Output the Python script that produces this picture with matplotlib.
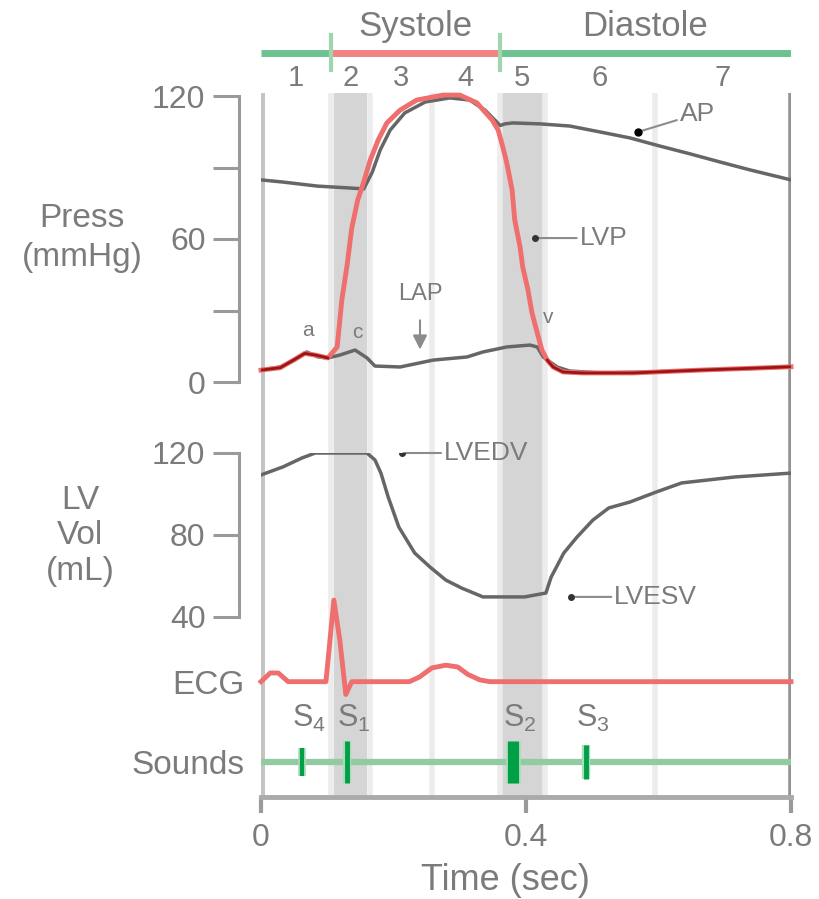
import numpy as np
import matplotlib.pyplot as plt

plt.rcParams['font.family'] = ['Liberation Sans', 'DejaVu Sans']
plt.rcParams['mathtext.default'] = 'regular'

# phases of the cardiac cycle (sec)
phase_edges = [0.0, 0.105, 0.165, 0.258, 0.36, 0.428, 0.595, 0.8]
phase_names = ['1', '2', '3', '4', '5', '6', '7']
iso_phases = [(0.110, 0.160), (0.364, 0.425)]
systole = (0.105, 0.36)

# left ventricular pressure (mmHg)
lvp_t = [0.0, 0.029, 0.051, 0.066, 0.082, 0.101, 0.115, 0.122, 0.130, 0.137, 0.146,
         0.155, 0.165, 0.177, 0.190, 0.210, 0.235, 0.275, 0.300, 0.326, 0.338, 0.349,
         0.358, 0.365, 0.371, 0.379, 0.383, 0.391, 0.395, 0.403, 0.409, 0.417, 0.424,
         0.432, 0.441, 0.456, 0.486, 0.562, 0.663, 0.764, 0.8]
lvp = [5.0, 6.0, 9.5, 12.0, 11.3, 10.1, 14.7, 34.4, 49.1, 64.6, 76.4,
       83.9, 93.2, 101.6, 108.7, 114.1, 118.3, 120.4, 120.4, 117.1, 113.3, 109.9,
       105.7, 98.6, 91.9, 80.6, 68.0, 56.7, 48.3, 38.6, 29.0, 20.6, 13.4,
       9.2, 6.3, 4.2, 3.8, 3.8, 5.0, 6.0, 6.4]

# aortic pressure (mmHg)
ap_t = [0.0, 0.033, 0.085, 0.134, 0.155, 0.168, 0.180, 0.195, 0.217, 0.248, 0.285,
        0.315, 0.338, 0.353, 0.361, 0.368, 0.380, 0.421, 0.466, 0.512, 0.557, 0.602,
        0.648, 0.693, 0.738, 0.8]
ap = [84.8, 83.9, 82.2, 81.4, 81.0, 88.1, 97.4, 105.7, 112.9, 117.5, 119.2,
      118.3, 114.1, 109.9, 107.6, 108.3, 108.7, 108.3, 107.4, 104.9, 102.4, 99.0,
      95.7, 92.3, 89.0, 84.8]

# left atrial pressure (mmHg)
lap_t = [0.0, 0.029, 0.051, 0.069, 0.086, 0.101, 0.119, 0.142, 0.160, 0.172, 0.210,
         0.260, 0.311, 0.335, 0.371, 0.406, 0.417, 0.426, 0.447, 0.466, 0.512, 0.587,
         0.663, 0.764, 0.8]
lap = [5.0, 6.3, 9.2, 12.6, 10.5, 10.1, 11.3, 13.4, 10.1, 6.7, 6.3,
       9.2, 10.5, 12.6, 14.7, 15.5, 14.7, 10.5, 6.3, 4.6, 3.8, 4.2,
       5.0, 5.9, 6.3]

# left ventricular volume (mL)
vol_t = [0.0, 0.033, 0.062, 0.082, 0.160, 0.172, 0.181, 0.192, 0.208, 0.232, 0.255,
         0.279, 0.303, 0.335, 0.398, 0.430, 0.438, 0.446, 0.457, 0.477, 0.501, 0.525,
         0.557, 0.596, 0.635, 0.715, 0.8]
vol = [109.3, 113.2, 117.6, 120.0, 120.0, 116.6, 110.2, 98.5, 83.9, 71.2, 64.4,
       58.0, 54.1, 49.8, 49.8, 51.7, 59.5, 64.4, 71.2, 79.0, 87.3, 93.2,
       96.1, 100.9, 105.4, 108.3, 110.2]

# ECG (arbitrary units)
ecg_t = [0.0, 0.014, 0.026, 0.041, 0.098, 0.110, 0.119, 0.128, 0.137, 0.224, 0.239,
         0.258, 0.279, 0.297, 0.312, 0.330, 0.345, 0.8]
ecg = [0.0, 0.095, 0.095, 0.0, 0.0, 0.89, 0.45, -0.14, 0.0, 0.0, 0.05,
       0.15, 0.18, 0.16, 0.08, 0.02, 0.0, 0.0]

# heart sounds
sound_t = [0.062, 0.130, 0.380, 0.491]
sound_names = ['S$_4$', 'S$_1$', 'S$_2$', 'S$_3$']
sound_h = [0.7, 1.05, 1.05, 0.85]
sound_w = [3, 3.5, 8, 3.5]

TXT = '#7b7b7b'
AX = '#9a9a9a'
DARK = '#666666'
RED = '#ef6e6e'
GREEN = '#6cc391'
LAB = 24      # big labels
TICK = 23     # tick labels
ANN = 19      # curve annotations

fig = plt.figure(figsize=(8.19, 8.99), dpi=100)


def px_axes(top, bottom):
    a = fig.add_axes([261 / 819, 1 - bottom / 899, 530 / 819, (bottom - top) / 899])
    a.set_xlim(0, 0.8)
    a.patch.set_alpha(0)
    return a


# background with phases and time axis
ax_bg = px_axes(93, 797)
ax_bg.set_ylim(0, 1)
for s in ['top', 'left', 'right']:
    ax_bg.spines[s].set_visible(False)
ax_bg.spines['bottom'].set_color('#aaaaaa')
ax_bg.spines['bottom'].set_linewidth(3.5)
for a, b in iso_phases:
    ax_bg.axvspan(a, b, color='#d5d5d5', lw=0, zorder=0)
for e in phase_edges[1:-1]:
    ax_bg.axvline(e, color='#ececec', lw=4, zorder=0)
ax_bg.axvline(0, color='#c4c4c4', lw=5, zorder=1)
ax_bg.axvline(0.8, color='#939393', lw=4, zorder=1)
ax_bg.set_yticks([])
ax_bg.set_xticks([0, 0.4, 0.8])
ax_bg.set_xticklabels(['0', '0.4', '0.8'])
ax_bg.tick_params(axis='x', length=11.5, width=3, color=AX, pad=7, labelsize=TICK, labelcolor=TXT)
ax_bg.text(0.369 / 0.8, -0.118, 'Time (sec)', transform=ax_bg.transAxes, ha='center', va='center',
           fontsize=26, color=TXT)

# top bar: systole / diastole and phase numbers
ax_top = px_axes(0, 93)
ax_top.set_ylim(0, 1)
ax_top.axis('off')
yb = 0.425
ax_top.plot([0, systole[0]], [yb, yb], color=GREEN, lw=5, solid_capstyle='butt')
ax_top.plot([systole[0], systole[1]], [yb, yb], color='#f28383', lw=5, solid_capstyle='butt')
ax_top.plot([systole[1], 0.8], [yb, yb], color=GREEN, lw=5, solid_capstyle='butt')
for e in systole:
    ax_top.plot([e, e], [0.25, 0.62], color='#9fd6b0', lw=3)
ax_top.text(np.mean(systole), 0.71, 'Systole', ha='center', va='center', fontsize=25, color=TXT)
ax_top.text((systole[1] + 0.8) / 2, 0.71, 'Diastole', ha='center', va='center', fontsize=25,
            color=TXT)
for i, n in enumerate(phase_names):
    mid = (phase_edges[i] + phase_edges[i + 1]) / 2
    ax_top.text(mid, 0.16, n, ha='center', va='center', fontsize=21, color=TXT)

# pressures
ax_p = px_axes(96, 382)
ax_p.set_ylim(0, 120)
for s in ['top', 'right', 'bottom']:
    ax_p.spines[s].set_visible(False)
ax_p.spines['left'].set_position(('outward', 16))
ax_p.spines['left'].set_color(AX)
ax_p.spines['left'].set_linewidth(2.2)
ax_p.set_yticks([0, 30, 60, 90, 120])
ax_p.set_yticklabels(['0', '', '60', '', '120'])
ax_p.tick_params(axis='y', length=19, width=2.2, color=AX, pad=5, labelsize=TICK, labelcolor=TXT)
ax_p.set_xticks([])

lvp_t_arr = np.array(lvp_t)
lvp_arr = np.array(lvp)
ax_p.plot(lap_t, lap, color=DARK, lw=2.5, zorder=3)
ax_p.plot(ap_t, ap, color=DARK, lw=2.5, zorder=3)
ax_p.plot(lvp_t, lvp, color=RED, lw=3.5, zorder=4, clip_on=False)
dia = np.ma.masked_where((lvp_t_arr > 0.106) & (lvp_t_arr < 0.43), lvp_arr)
ax_p.plot(lvp_t_arr, dia, color='#9b1515', lw=2, zorder=5)

ann = dict(fontsize=ANN, color=TXT, va='center', ha='left', textcoords='offset points',
           arrowprops=dict(arrowstyle='-', color='#8c8c8c', lw=1.5, shrinkA=0, shrinkB=1))
ax_p.plot(0.569, 104.9, 'o', color='black', ms=5, zorder=6)
ax_p.annotate('AP', (0.569, 104.9), xytext=(30, 13), **ann)
ax_p.plot(0.4136, 60.4, 'o', color='#333333', ms=4, zorder=6)
ax_p.annotate('LVP', (0.4136, 60.4), xytext=(32, 0), **ann)
ax_p.annotate('LAP', (0.24, 13.6), xytext=(0, 40), textcoords='offset points', fontsize=17,
              color=TXT, ha='center', va='center',
              arrowprops=dict(arrowstyle='-|>,head_width=0.25,head_length=0.5', color='#8c8c8c',
                              lw=1.5, shrinkA=9, shrinkB=0))
for lab, t, p in [('a', 0.0709, 21.4), ('c', 0.145, 20.6), ('v', 0.433, 26.9)]:
    ax_p.text(t, p, lab, fontsize=15, color=TXT, ha='center', va='center')
fig.text(82 / 819, 1 - 238 / 899, 'Press\n(mmHg)', ha='center', va='center', fontsize=LAB,
         color=TXT, linespacing=1.3)

# volume
ax_v = px_axes(453, 617)
ax_v.set_ylim(40, 120)
for s in ['top', 'right', 'bottom']:
    ax_v.spines[s].set_visible(False)
ax_v.spines['left'].set_position(('outward', 16))
ax_v.spines['left'].set_color(AX)
ax_v.spines['left'].set_linewidth(2.2)
ax_v.set_yticks([40, 80, 120])
ax_v.tick_params(axis='y', length=19, width=2.2, color=AX, pad=5, labelsize=TICK, labelcolor=TXT)
ax_v.set_xticks([])
ax_v.plot(vol_t, vol, color=DARK, lw=2.5, zorder=3)
ax_v.plot(0.213, 120, 'o', color='#333333', ms=4, zorder=6)
ax_v.annotate('LVEDV', (0.213, 120), xytext=(30, 0), **ann)
ax_v.plot(0.468, 49.8, 'o', color='#333333', ms=4, zorder=6)
ax_v.annotate('LVESV', (0.468, 49.8), xytext=(31, 0), **ann)
fig.text(80 / 819, 1 - 536 / 899, 'LV\nVol\n(mL)', ha='center', va='center', fontsize=LAB,
         color=TXT, linespacing=1.18)

# ECG
ax_e = px_axes(590, 700)
ax_e.set_ylim(-0.2, 1.0)
for s in ax_e.spines.values():
    s.set_visible(False)
ax_e.set_xticks([])
ax_e.set_yticks([0])
ax_e.set_yticklabels(['ECG'])
ax_e.tick_params(axis='y', length=0, pad=12, labelsize=LAB, labelcolor=TXT)
ax_e.plot(ecg_t, ecg, color=RED, lw=3.5, clip_on=False)

# heart sounds
ax_s = px_axes(742, 782)
ax_s.set_ylim(-1, 1)
for s in ax_s.spines.values():
    s.set_visible(False)
ax_s.set_xticks([])
ax_s.set_yticks([0])
ax_s.set_yticklabels(['Sounds'])
ax_s.tick_params(axis='y', length=0, pad=12, labelsize=LAB, labelcolor=TXT)
ax_s.axhline(0, color='#92cba2', lw=4.5, zorder=2)
for t, n, h, w in zip(sound_t, sound_names, sound_h, sound_w):
    ax_s.plot([t, t], [-h, h], color='#a9dcb9', lw=w + 2.5, zorder=3, clip_on=False,
              solid_capstyle='butt')
    ax_s.plot([t, t], [-h, h], color='#00a046', lw=w, zorder=4, clip_on=False,
              solid_capstyle='butt')
    ax_s.annotate(n, (t, 0), xytext=(5, 31), textcoords='offset points', ha='center',
                  va='center', fontsize=22, color=TXT)

fig.savefig('out.png', dpi=100)
